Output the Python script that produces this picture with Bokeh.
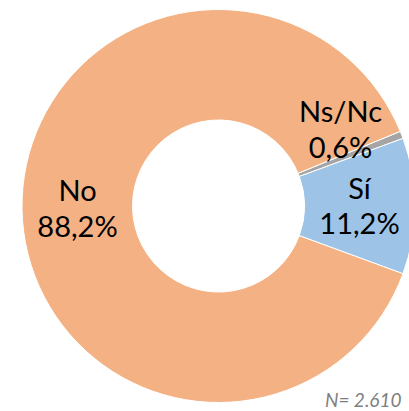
import math
from bokeh.plotting import figure
from bokeh.models import Range1d
from bokeh.core.properties import value
from bokeh.embed import file_html
from bokeh.resources import INLINE

categories = ["Sí", "Ns/Nc", "No"]
percents = [11.2, 0.6, 88.2]
pct_labels = ["11,2%", "0,6%", "88,2%"]
colors = ["#9DC3E6", "#A5A5A5", "#F4B183"]
note = "N= 2.610"

total = sum(percents)
start0 = -math.pi * percents[0] / total
starts, ends = [], []
a = start0
for v in percents:
    starts.append(a)
    a += 2 * math.pi * v / total
    ends.append(a)

p = figure(width=409, height=411, output_backend="svg", toolbar_location=None,
           x_range=Range1d(-1.1094, 0.972), y_range=Range1d(-1.0458, 1.0458))
p.axis.visible = False
p.grid.visible = False
p.outline_line_color = None
p.min_border = 0
p.min_border_left = p.min_border_right = p.min_border_top = p.min_border_bottom = 0
p.background_fill_color = "white"

p.annular_wedge(x=0, y=0, inner_radius=0.4377, outer_radius=1.0,
                start_angle=starts, end_angle=ends, fill_color=colors,
                line_color="white", line_width=1)

r_lab = 0.7176
lx, ly = [], []
for s, e, c in zip(starts, ends, categories):
    m = (s + e) / 2
    lx.append(r_lab * math.cos(m))
    ly.append(r_lab * math.sin(m))
# small slice label is pushed outward/up to avoid overlap
lx[1] = 0.621
ly[1] = 0.39

font = value("Lato")
p.text(x=lx, y=[y + 0.096 for y in ly], text=categories, text_font=font,
       text_font_size="29px", text_align="center", text_baseline="alphabetic",
       text_color="#000000")
p.text(x=lx, y=[y - 0.085 for y in ly], text=pct_labels, text_font=font,
       text_font_size="29px", text_align="center", text_baseline="alphabetic",
       text_color="#000000")

p.text(x=[0.9313], y=[-0.985], text=[note], text_font=font, text_font_size="19px",
       text_font_style="italic", text_align="right", text_baseline="alphabetic",
       text_color="#7F7F7F")

open("out.html", "w").write(file_html(p, INLINE))
